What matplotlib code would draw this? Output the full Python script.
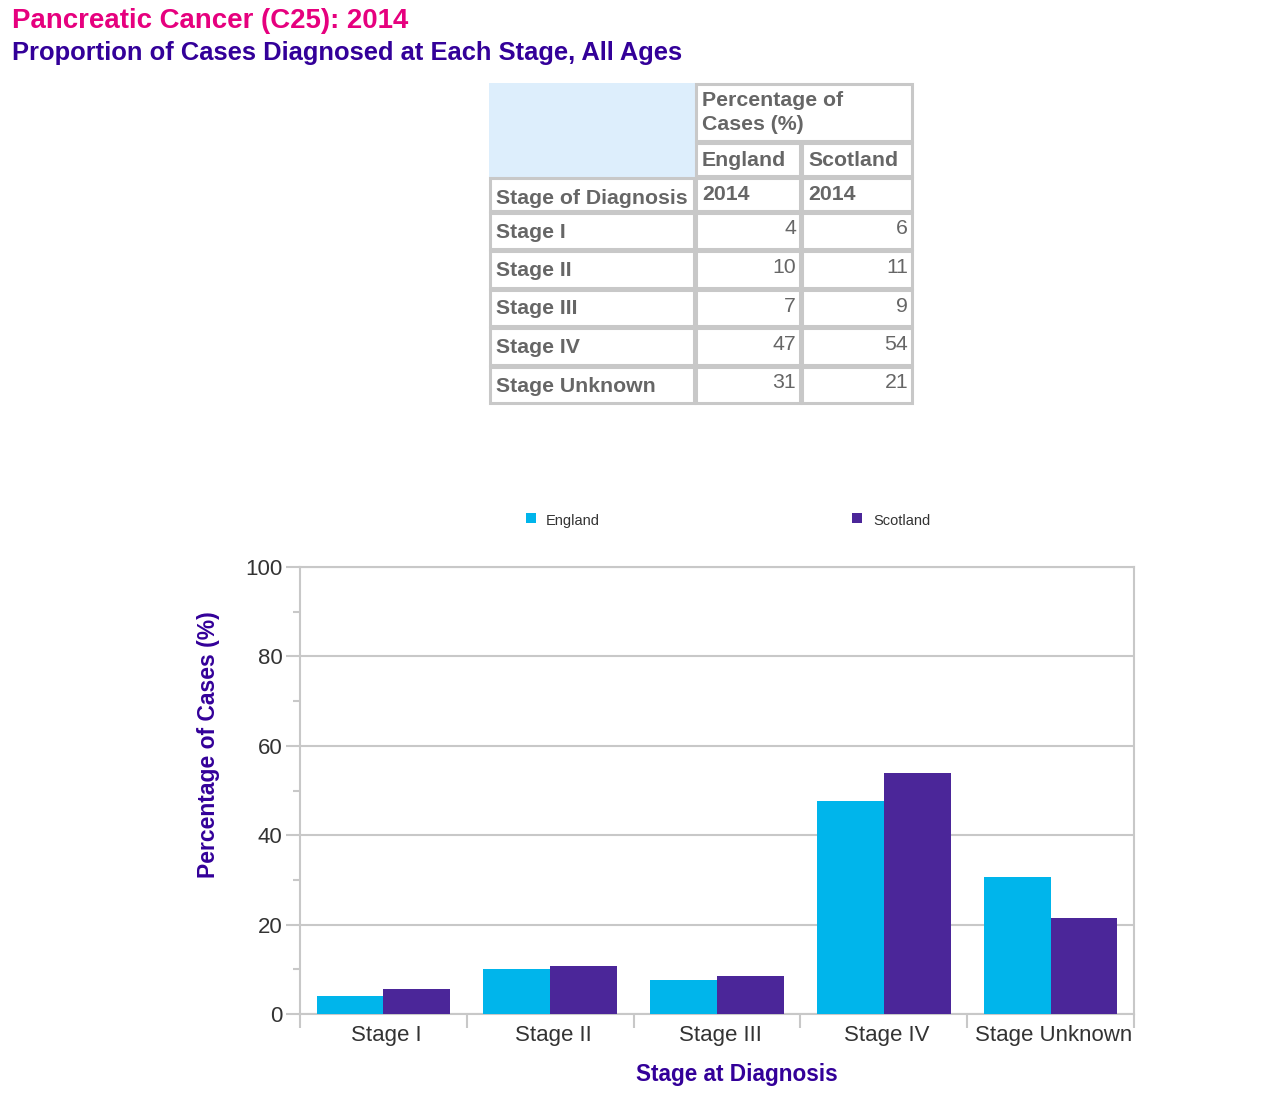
import numpy as np
import matplotlib
matplotlib.use("Agg")
import matplotlib.pyplot as plt
from matplotlib.patches import Rectangle

plt.rcParams['font.family'] = ['Liberation Sans', 'DejaVu Sans']

# ---------------------------
# data
# ---------------------------
stages = ["Stage I", "Stage II", "Stage III", "Stage IV", "Stage Unknown"]
england = [4.1, 10.0, 7.5, 47.6, 30.7]
scotland = [5.7, 10.7, 8.4, 53.9, 21.5]
england_table = ["4", "10", "7", "47", "31"]  # rounded values shown in the table
scotland_table = ["6", "11", "9", "54", "21"]
series_names = ["England", "Scotland"]
year = "2014"

title = "Pancreatic Cancer (C25): 2014"
subtitle = "Proportion of Cases Diagnosed at Each Stage, All Ages"

# colours
c_eng = "#00B5EB"
c_sco = "#4B2699"
c_grid = "#C8C8C8"
c_tab = "#666666"
c_navy = "#330099"

W, H = 1267, 1111
fig = plt.figure(figsize=(W / 100, H / 100), dpi=100)

# overlay axes in pixel coordinates for titles + table
ov = fig.add_axes([0, 0, 1, 1])
ov.set_xlim(0, W)
ov.set_ylim(H, 0)
ov.axis("off")

ov.text(12, 21, title, color="#E6007E", fontsize=19.9, fontweight="bold", va="center", ha="left")
ov.text(12, 53, subtitle, color=c_navy, fontsize=18.4, fontweight="bold", va="center", ha="left")

# ---------------------------
# table
# ---------------------------
cols = [489, 695, 801, 913]
rows = [83, 142, 177, 212, 250, 289, 327, 366, 404]
lw = 2.2

# light blue corner cell
ov.add_patch(Rectangle((cols[0], rows[0]), cols[1] - cols[0], rows[2] - rows[0],
                       facecolor="#DDEEFC", edgecolor="none", zorder=1))


def cell(x0, x1, y0, y1):
    ov.add_patch(Rectangle((x0 + 1, y0 + 1), x1 - x0 - 2, y1 - y0 - 2,
                           facecolor="white", edgecolor=c_grid, lw=lw, zorder=2))


cell(cols[1], cols[3], rows[0], rows[1])
cell(cols[1], cols[2], rows[1], rows[2])
cell(cols[2], cols[3], rows[1], rows[2])
for r in range(2, len(rows) - 1):
    for c in range(3):
        cell(cols[c], cols[c + 1], rows[r], rows[r + 1])

tkw = dict(color=c_tab, fontsize=15.3, zorder=3)
ov.text(702, 100, "Percentage of", fontweight="bold", va="center", ha="left", **tkw)
ov.text(702, 125, "Cases (%)", fontweight="bold", va="center", ha="left", **tkw)
ov.text(702, 160, series_names[0], fontweight="bold", va="center", ha="left", **tkw)
ov.text(808, 160, series_names[1], fontweight="bold", va="center", ha="left", **tkw)
ov.text(496, 198, "Stage of Diagnosis", fontweight="bold", va="center", ha="left", **tkw)
ov.text(702, 194, year, fontweight="bold", va="center", ha="left", **tkw)
ov.text(808, 194, year, fontweight="bold", va="center", ha="left", **tkw)
for i, s in enumerate(stages):
    yc = (rows[i + 3] + rows[i + 4]) / 2
    ov.text(496, yc + 1, s, fontweight="bold", va="center", ha="left", **tkw)
    ov.text(796, yc - 2, england_table[i], va="center", ha="right", **tkw)
    ov.text(908, yc - 2, scotland_table[i], va="center", ha="right", **tkw)

# legend
ov.add_patch(Rectangle((526, 513), 10, 10, facecolor=c_eng, edgecolor="none"))
ov.text(546, 521, series_names[0], fontsize=10.5, color="#333333", va="center", ha="left")
ov.add_patch(Rectangle((852, 513), 10, 10, facecolor=c_sco, edgecolor="none"))
ov.text(873, 521, series_names[1], fontsize=10.5, color="#333333", va="center", ha="left")

# axis titles (placed like the original, not centred on the axes)
ov.text(737, 1075, "Stage at Diagnosis", fontsize=16.3, fontweight="bold", color=c_navy,
        va="center", ha="center")
ov.text(208, 745, "Percentage of Cases (%)", fontsize=16.5, fontweight="bold", color=c_navy,
        va="center", ha="center", rotation=90)

# ---------------------------
# bar chart
# ---------------------------
ax = fig.add_axes([300 / W, 1 - 1014 / H, 834 / W, 447 / H])
x = np.arange(len(stages))
bw = 0.4
ax.bar(x - bw / 2, england, bw, color=c_eng, zorder=3)
ax.bar(x + bw / 2, scotland, bw, color=c_sco, zorder=3)

ax.set_xlim(-0.5, len(stages) - 0.5)
ax.set_ylim(0, 100)
ax.set_yticks(np.arange(0, 101, 20))
ax.set_yticks(np.arange(10, 100, 20), minor=True)
ax.yaxis.grid(True, color=c_grid, lw=1.5, zorder=0)
ax.tick_params(axis="y", which="major", length=10, width=1.5, color=c_grid,
               labelsize=16, labelcolor="#333333", pad=2.5)
ax.tick_params(axis="y", which="minor", length=5, width=1.5, color=c_grid)

# category ticks at the boundaries, labels in the middle
ax.set_xticks(np.arange(-0.5, len(stages), 1))
ax.set_xticklabels([])
ax.set_xticks(x + 0.02, minor=True)
ax.set_xticklabels(stages, minor=True)
ax.tick_params(axis="x", which="major", length=10, width=1.5, color=c_grid)
ax.tick_params(axis="x", which="minor", length=0, labelsize=16, labelcolor="#333333", pad=8)

for sp in ax.spines.values():
    sp.set_color(c_grid)
    sp.set_linewidth(1.5)

fig.savefig("out.png", dpi=100)
